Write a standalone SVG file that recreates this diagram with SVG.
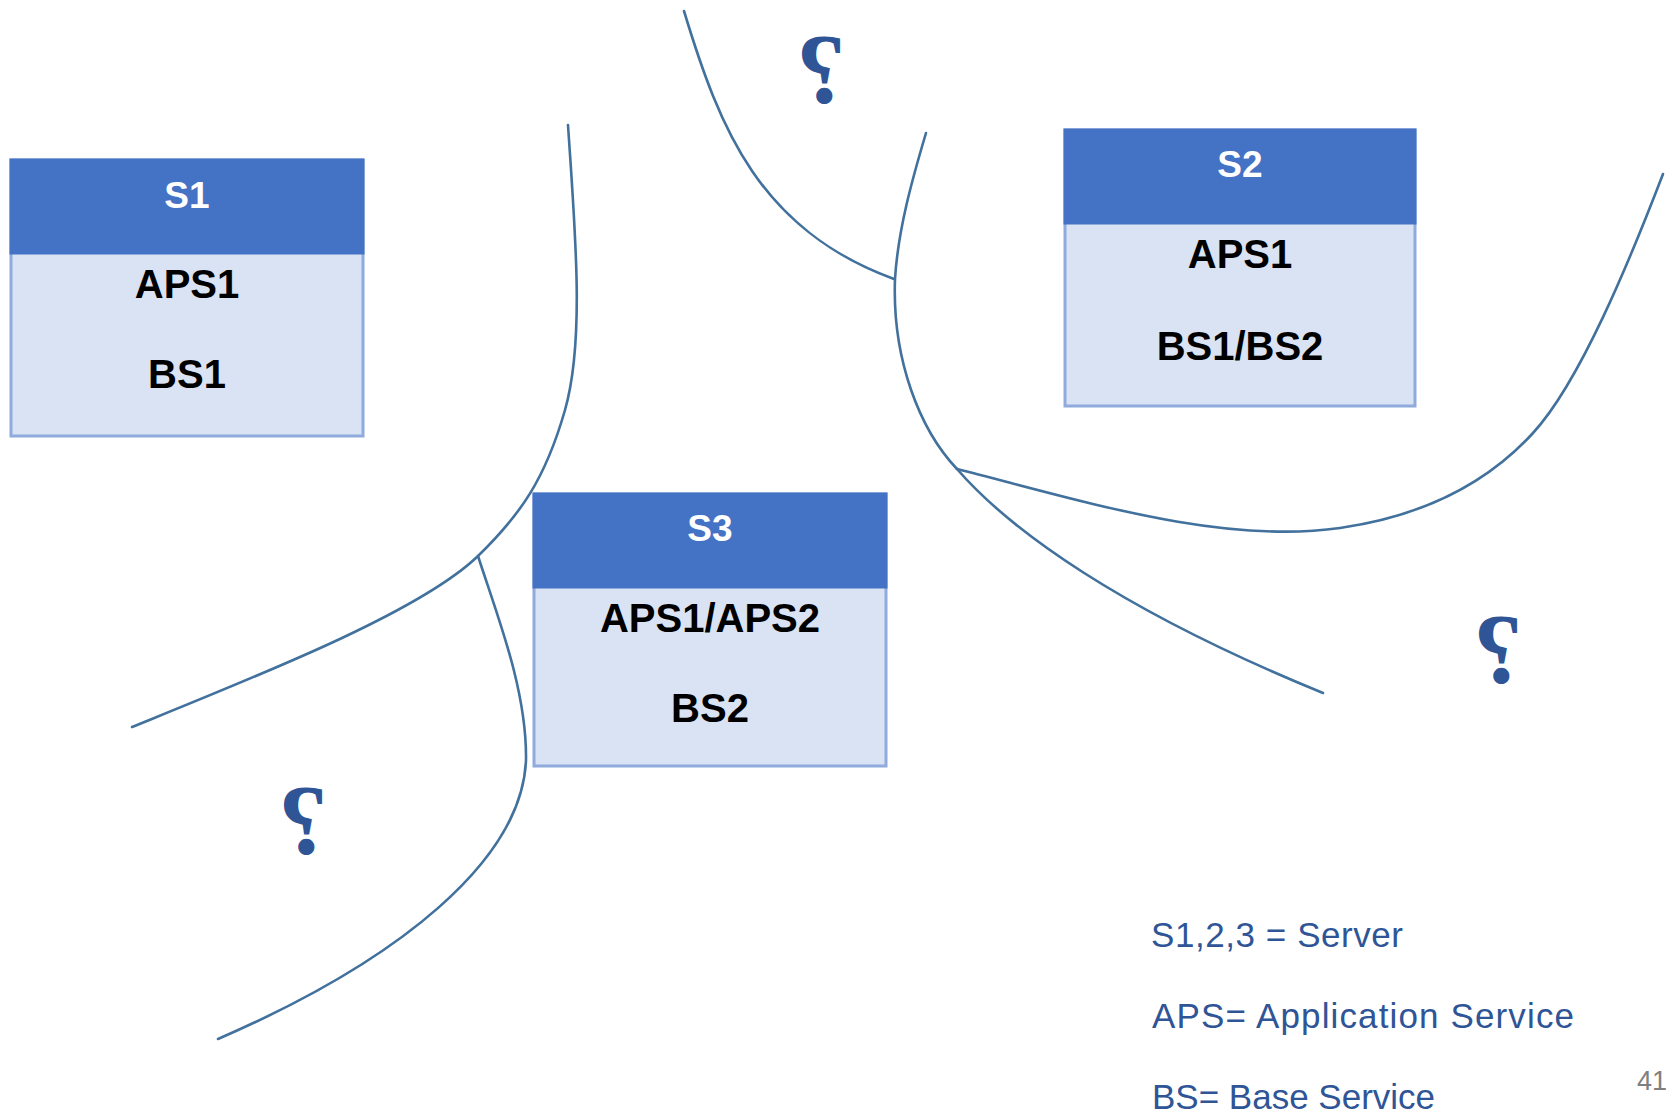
<svg xmlns="http://www.w3.org/2000/svg" width="1672" height="1114" viewBox="0 0 1672 1114">
  <style>
    .edge { fill: none; stroke: #41719C; stroke-width: 2.6; stroke-linecap: round; }
    .body { fill: #DAE3F3; stroke: #8FAADC; stroke-width: 3; }
    .head { fill: #4472C4; stroke: #4472C4; stroke-width: 3; }
    .title { font-family: "Liberation Sans", Arial, sans-serif; font-weight: bold; font-size: 37px; fill: #FFFFFF; text-anchor: middle; }
    .item { font-family: "Liberation Sans", Arial, sans-serif; font-weight: bold; font-size: 40px; fill: #000000; text-anchor: middle; }
    .legend { font-family: "Liberation Sans", Arial, sans-serif; font-size: 35px; fill: #2F5597; }
    .qmark { font-family: "Liberation Serif", "Times New Roman", serif; font-weight: bold; font-size: 100px; fill: #2F5597; text-anchor: middle; }
    .pageno { font-family: "Liberation Sans", Arial, sans-serif; font-size: 27px; fill: #7F7F7F; }
  </style>
  <rect width="1672" height="1114" fill="#FFFFFF"/>

  <!-- boundary lines between the service regions -->
  <g id="connectors">
    <path class="edge" d="M568,125 C575,230 585,340 565,410 C545,480 520,515 478,556 C420,612 260,675 132,727"/>
    <path class="edge" d="M478,556 C497,615 527,690 526,760 C522,860 400,960 218,1039"/>
    <path class="edge" d="M684,11 C720,130 760,230 894,279"/>
    <path class="edge" d="M926,133 C912,180 898,230 895,279 C892,360 920,430 957,469 C1010,530 1120,610 1323,693"/>
    <path class="edge" d="M957,469 C1080,500 1220,545 1340,528 C1430,515 1490,480 1533,433 C1580,382 1630,260 1663,174"/>
  </g>

  <!-- servers -->
  <g id="s1">
    <rect class="body" x="11" y="160" width="352" height="276"/>
    <rect class="head" x="11" y="160" width="352" height="93"/>
    <text class="title" x="187" y="208">S1</text>
    <text class="item" x="187" y="298">APS1</text>
    <text class="item" x="187" y="388">BS1</text>
  </g>
  <g id="s2">
    <rect class="body" x="1065" y="130" width="350" height="276"/>
    <rect class="head" x="1065" y="130" width="350" height="93"/>
    <text class="title" x="1240" y="177">S2</text>
    <text class="item" x="1240" y="268">APS1</text>
    <text class="item" x="1240" y="360">BS1/BS2</text>
  </g>
  <g id="s3">
    <rect class="body" x="534" y="494" width="352" height="272"/>
    <rect class="head" x="534" y="494" width="352" height="93"/>
    <text class="title" x="710" y="541">S3</text>
    <text class="item" x="710" y="632">APS1/APS2</text>
    <text class="item" x="710" y="722">BS2</text>
  </g>

  <!-- unknown regions -->
  <g id="q1"><text class="qmark" transform="translate(821,102) scale(-1,1)">?</text></g>
  <g id="q2"><text class="qmark" transform="translate(303,853) scale(-1,1)">?</text></g>
  <g id="q3"><text class="qmark" transform="translate(1498,682) scale(-1,1)">?</text></g>

  <!-- legend -->
  <g id="legend">
    <text class="legend" x="1151" y="947" textLength="252" lengthAdjust="spacing">S1,2,3 = Server</text>
    <text class="legend" x="1152" y="1028" textLength="422" lengthAdjust="spacing">APS= Application Service</text>
    <text class="legend" x="1152" y="1109">BS= Base Service</text>
  </g>
  <text class="pageno" x="1637" y="1090">41</text>
</svg>
